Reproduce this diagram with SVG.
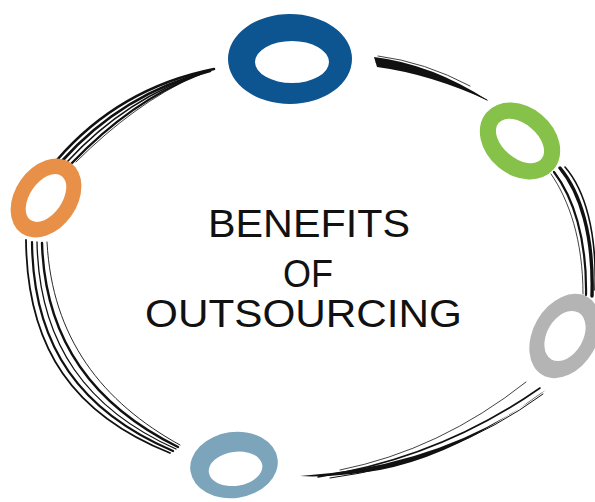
<svg xmlns="http://www.w3.org/2000/svg" width="595" height="502" viewBox="0 0 595 502">
  <style>
    .br { fill: none; stroke: #111; stroke-linecap: round; }
    .bf { fill: #111; stroke: none; }
    .ring { fill-rule: evenodd; stroke: none; }
    .title { font-family: "Liberation Sans", Arial, sans-serif; font-size: 38px; fill: #111; }
  </style>
  <rect width="595" height="502" fill="#ffffff"/>

  <g id="connectors">
    <!-- orange to blue -->
    <g id="stroke-orange-blue">
      <path class="br" stroke-width="2.6" d="M 57 160 Q 119 88 214 69"/>
      <path class="br" stroke-width="2.8" d="M 62 161 Q 123 93 210 71"/>
      <path class="br" stroke-width="1.6" d="M 67 162 Q 127 97 206 72"/>
      <path class="br" stroke-width="2.4" d="M 72 163 Q 131 101 200 74"/>
      <path class="br" stroke-width="0.8" d="M 76 162 Q 134 104 195 76"/>
    </g>
    <!-- blue to green -->
    <g id="stroke-blue-green">
      <path class="bf" d="M 374 57 Q 432 64 489 101 Q 430 74 377 67 Z"/>
      <path class="br" stroke-width="1" d="M 376 62 Q 430 69 487 100"/>
      <path class="br" stroke-width="0.8" d="M 378 56 Q 425 62 470 86"/>
    </g>
    <!-- green to gray -->
    <g id="stroke-green-gray">
      <path class="br" stroke-width="3.4" d="M 560 168 C 580 192 594 235 592 296"/>
      <path class="br" stroke-width="1.6" d="M 565 167 C 585 190 597 232 595 290"/>
      <path class="br" stroke-width="2.2" d="M 554 172 C 573 197 587 238 586 295"/>
      <path class="br" stroke-width="0.8" d="M 551 174 C 569 200 583 240 583 294"/>
    </g>
    <!-- gray to steel blue -->
    <g id="stroke-gray-steel">
      <path class="bf" d="M 546 390 Q 445 466 300 476 Q 330 478 380 470 Q 455 456 541 393 Z"/>
      <path class="br" stroke-width="1.6" d="M 540 388 Q 440 458 318 477"/>
      <path class="br" stroke-width="0.8" d="M 526 382 Q 440 450 340 470"/>
      <path class="br" stroke-width="1" d="M 543 394 Q 450 462 330 478"/>
    </g>
    <!-- orange to steel blue -->
    <g id="stroke-orange-steel">
      <path class="br" stroke-width="1.8" d="M 26 240 C 27 350 75 415 170 453"/>
      <path class="br" stroke-width="2.2" d="M 32 242 C 33 348 82 412 173 451"/>
      <path class="br" stroke-width="1.3" d="M 37 242 C 39 345 88 410 176 449"/>
      <path class="br" stroke-width="2.4" d="M 42 243 C 45 342 95 406 178 447"/>
      <path class="br" stroke-width="0.9" d="M 47 242 C 52 338 102 402 180 445"/>
    </g>
  </g>

  <g id="node-blue" transform="translate(290,59)">
    <path class="ring" fill="#0d5591" d="M -62 0 a 62 45 0 1 0 124 0 a 62 45 0 1 0 -124 0 Z M -35 3 a 37 21 0 1 0 74 0 a 37 21 0 1 0 -74 0 Z"/>
  </g>
  <g id="node-orange" transform="translate(46,198) rotate(-55)">
    <path class="ring" fill="#e88f48" d="M -43 0 a 43 31 0 1 0 86 0 a 43 31 0 1 0 -86 0 Z M -27 0 a 27 16 0 1 0 54 0 a 27 16 0 1 0 -54 0 Z"/>
  </g>
  <g id="node-green" transform="translate(520,141) rotate(40)">
    <path class="ring" fill="#86c14a" d="M -44 0 a 44 34 0 1 0 88 0 a 44 34 0 1 0 -88 0 Z M -28 0 a 28 17 0 1 0 56 0 a 28 17 0 1 0 -56 0 Z"/>
  </g>
  <g id="node-gray" transform="translate(565,336) rotate(-60)">
    <path class="ring" fill="#b4b4b4" d="M -45 0 a 45 32 0 1 0 90 0 a 45 32 0 1 0 -90 0 Z M -27 0 a 27 18 0 1 0 54 0 a 27 18 0 1 0 -54 0 Z"/>
  </g>
  <g id="node-steel" transform="translate(234,465) rotate(-8)">
    <path class="ring" fill="#7ca4bb" d="M -44 0 a 44 33 0 1 0 88 0 a 44 33 0 1 0 -88 0 Z M -26 4 a 27 17 0 1 0 54 0 a 27 17 0 1 0 -54 0 Z"/>
  </g>

  <g id="node-title">
    <text class="title" x="208" y="237" textLength="202" lengthAdjust="spacingAndGlyphs">BENEFITS</text>
    <text class="title" x="283" y="287" textLength="50" lengthAdjust="spacingAndGlyphs">OF</text>
    <text class="title" x="145" y="327" textLength="317" lengthAdjust="spacingAndGlyphs">OUTSOURCING</text>
  </g>
</svg>
